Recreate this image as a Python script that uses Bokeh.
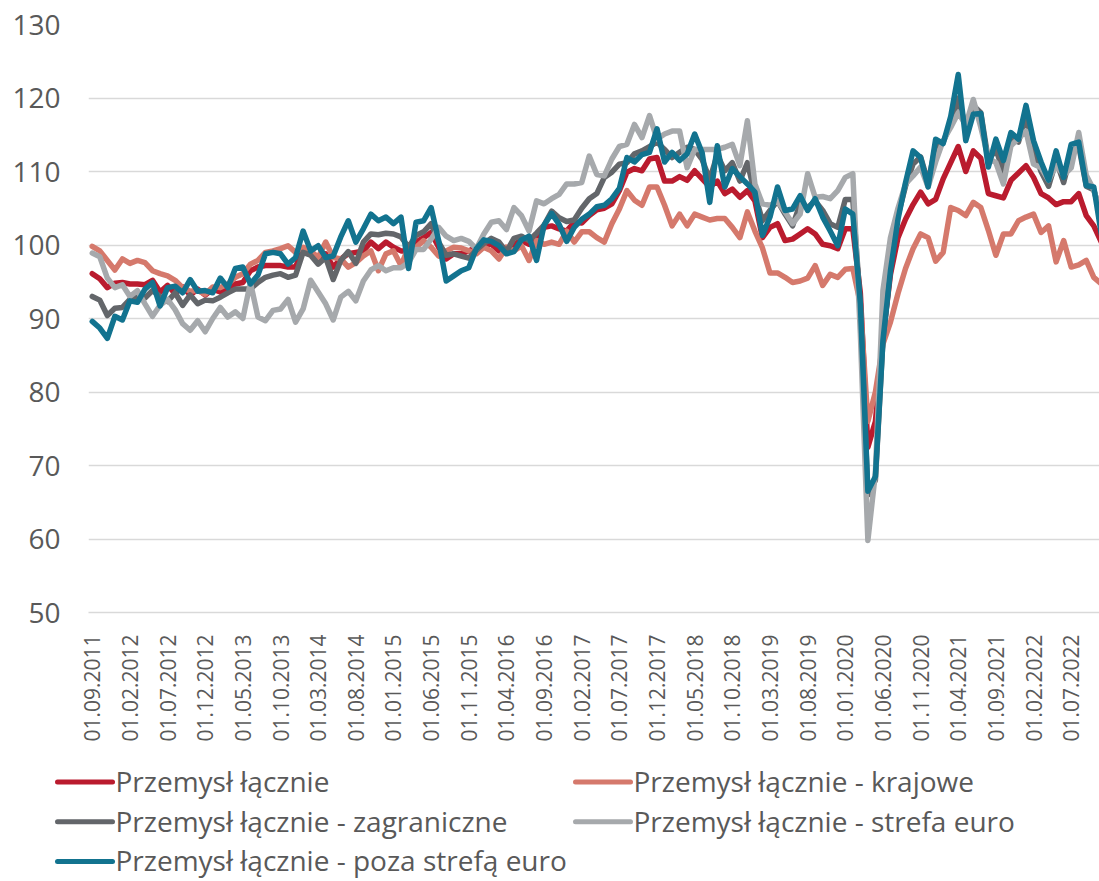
import math
from bokeh.plotting import figure
from bokeh.layouts import column
from bokeh.models import Range1d, FixedTicker
from bokeh.core.properties import value
from bokeh.embed import file_html
from bokeh.resources import INLINE

# x-axis tick labels (every 5th month, first month = 01.09.2011)
tick_labels = ["01.09.2011", "01.02.2012", "01.07.2012", "01.12.2012", "01.05.2013",
               "01.10.2013", "01.03.2014", "01.08.2014", "01.01.2015", "01.06.2015",
               "01.11.2015", "01.04.2016", "01.09.2016", "01.02.2017", "01.07.2017",
               "01.12.2017", "01.05.2018", "01.10.2018", "01.03.2019", "01.08.2019",
               "01.01.2020", "01.06.2020", "01.11.2020", "01.04.2021", "01.09.2021",
               "01.02.2022", "01.07.2022"]

lacznie = [96.1, 95.4, 94.2, 94.8, 94.9, 94.7, 94.7, 94.6, 95.2, 93.6,
           94.5, 93.4, 94.3, 93.2, 94.0, 93.2, 94.0, 93.6, 94.2, 94.7,
           94.9, 96.5, 97.0, 97.2, 97.2, 97.2, 97.0, 97.0, 99.5, 98.8,
           97.9, 98.8, 97.0, 98.1, 98.8, 99.0, 99.2, 100.4, 99.5, 100.4,
           99.7, 99.2, 99.2, 100.4, 101.0, 101.7, 99.7, 98.1, 98.8, 98.8,
           99.2, 99.7, 100.1, 100.1, 99.2, 99.4, 100.1, 100.6, 100.1, 100.6,
           102.4, 102.6, 102.2, 101.9, 103.1, 103.0, 104.0, 104.8, 105.0, 105.6,
           107.4, 109.9, 110.4, 110.1, 111.7, 111.9, 108.7, 108.7, 109.3, 108.8,
           110.1, 109.0, 107.9, 108.7, 107.0, 107.6, 106.5, 107.4, 106.0, 101.0,
           102.4, 102.9, 100.6, 100.8, 101.5, 102.2, 101.5, 100.1, 99.9, 99.5,
           102.2, 102.2, 93.5, 72.5, 76.0, 87.5, 96.0, 101.0, 103.5, 105.5,
           107.2, 105.6, 106.2, 109.0, 111.2, 113.4, 110.0, 112.8, 111.8, 107.0,
           106.7, 106.4, 108.8, 109.8, 110.8, 109.2, 107.0, 106.4, 105.5, 105.9,
           105.9, 107.0, 104.0, 102.6, 100.4]

krajowe = [99.8, 99.2, 97.9, 96.6, 98.1, 97.5, 97.9, 97.6, 96.5, 96.1,
           95.8, 95.2, 94.2, 93.7, 93.8, 93.3, 94.3, 94.2, 94.7, 95.6,
           96.1, 97.4, 97.9, 99.0, 99.2, 99.5, 99.9, 99.0, 99.7, 99.2,
           98.3, 100.4, 98.3, 98.1, 97.0, 97.6, 98.5, 99.2, 96.5, 98.8,
           99.2, 97.2, 99.7, 99.7, 100.6, 99.7, 98.5, 99.2, 99.7, 99.6,
           99.2, 98.8, 99.7, 99.2, 98.1, 99.7, 99.2, 99.9, 97.9, 100.6,
           100.1, 100.4, 100.1, 101.9, 100.4, 101.8, 101.8, 101.0, 100.4, 102.9,
           104.9, 107.4, 106.1, 105.4, 107.9, 107.9, 105.4, 102.6, 104.2, 102.6,
           104.2, 103.8, 103.4, 103.6, 103.6, 102.4, 101.0, 104.5, 101.9, 99.6,
           96.2, 96.2, 95.6, 94.9, 95.1, 95.5, 97.2, 94.5, 96.0, 95.6,
           96.7, 96.8, 92.0, 76.0, 80.0, 86.5, 89.5, 93.4, 96.8, 99.5,
           101.5, 101.0, 97.8, 99.0, 105.1, 104.7, 104.0, 105.8, 105.1, 102.0,
           98.6, 101.5, 101.5, 103.3, 103.8, 104.2, 101.7, 102.6, 97.7, 100.6,
           97.0, 97.3, 97.9, 95.6, 94.7]

zagraniczne = [93.0, 92.5, 90.4, 91.4, 91.5, 92.6, 93.0, 92.8, 93.8, 93.0,
               92.3, 93.5, 91.8, 93.2, 92.0, 92.5, 92.4, 92.9, 93.5, 94.0,
               94.0, 94.0, 94.9, 95.6, 95.9, 96.1, 95.6, 95.9, 99.0, 98.6,
               97.4, 98.3, 95.3, 97.9, 99.1, 97.5, 100.4, 101.5, 101.4, 101.6,
               101.5, 101.1, 99.7, 101.3, 101.8, 102.9, 100.4, 98.6, 98.8, 98.5,
               98.2, 99.3, 100.2, 100.9, 100.4, 99.1, 100.9, 101.2, 100.6, 101.6,
               102.7, 104.6, 103.7, 103.2, 103.4, 105.0, 106.3, 107.0, 109.2, 109.9,
               111.0, 111.2, 112.4, 112.8, 113.4, 114.0, 113.0, 111.9, 112.6, 113.3,
               113.0, 111.6, 108.9, 112.3, 110.1, 111.2, 108.7, 111.2, 106.9, 103.3,
               104.7, 106.0, 104.2, 102.6, 105.6, 105.1, 106.0, 104.7, 102.9, 102.4,
               106.2, 106.2, 92.0, 66.0, 68.0, 87.0, 97.0, 104.0, 108.0, 111.0,
               112.0, 108.5, 113.5, 114.0, 116.5, 120.0, 116.0, 119.0, 118.0, 111.5,
               113.0, 110.0, 114.5, 114.0, 117.5, 113.0, 110.0, 108.0, 111.5, 108.5,
               112.5, 113.5, 108.0, 107.5, 104.0]

strefa_euro = [98.9, 98.4, 95.5, 94.2, 94.6, 93.0, 93.8, 92.0, 90.3, 91.8,
               92.6, 91.2, 89.3, 88.4, 89.7, 88.2, 90.0, 91.5, 90.2, 90.9,
               90.0, 94.9, 90.2, 89.7, 91.1, 91.3, 92.6, 89.5, 91.3, 95.2,
               93.6, 92.0, 89.8, 92.9, 93.7, 92.4, 95.1, 96.6, 97.2, 96.5,
               96.9, 96.9, 97.6, 99.4, 99.4, 100.8, 102.4, 101.2, 100.6, 100.9,
               100.5, 99.5, 101.5, 103.1, 103.3, 102.1, 105.1, 104.0, 101.9, 106.0,
               105.6, 106.3, 106.9, 108.3, 108.3, 108.5, 112.1, 109.6, 109.4, 111.7,
               113.4, 113.7, 116.4, 114.6, 117.6, 114.4, 115.1, 115.5, 115.5, 110.5,
               113.0, 113.0, 113.0, 113.0, 113.3, 113.7, 110.8, 116.9, 108.3, 105.6,
               105.4, 106.0, 104.5, 102.9, 104.2, 109.7, 106.5, 106.6, 106.3, 107.4,
               109.2, 109.7, 88.0, 59.8, 69.0, 93.8, 101.0, 105.0, 108.3, 109.4,
               110.6, 107.9, 111.3, 114.2, 116.0, 118.0, 116.3, 119.8, 116.0, 111.8,
               111.2, 108.3, 113.5, 114.5, 115.5, 111.0, 110.5, 108.8, 110.8, 109.5,
               110.5, 115.3, 109.5, 107.5, 104.0]

poza_strefa = [89.6, 88.7, 87.3, 90.3, 89.8, 92.4, 92.2, 94.0, 94.9, 91.7,
               94.2, 94.4, 93.5, 95.3, 93.7, 93.8, 93.5, 95.5, 94.2, 96.8,
               97.0, 94.7, 95.9, 98.8, 99.0, 98.8, 97.4, 98.3, 101.9, 99.2,
               99.9, 98.3, 98.5, 101.1, 103.3, 100.4, 102.2, 104.2, 103.3, 103.8,
               102.9, 103.8, 96.8, 103.1, 103.3, 105.1, 100.6, 95.1, 95.8, 96.5,
               96.9, 99.5, 100.7, 100.5, 99.9, 98.8, 99.1, 100.7, 101.2, 97.9,
               102.7, 104.3, 102.8, 100.5, 102.4, 103.5, 104.2, 105.2, 105.4, 106.3,
               107.7, 111.9, 111.3, 112.3, 112.6, 115.8, 111.3, 112.6, 111.5, 112.4,
               115.1, 112.5, 105.8, 113.5, 107.9, 110.4, 109.3, 108.3, 107.2, 101.3,
               103.8, 107.9, 104.7, 104.9, 106.7, 104.7, 106.3, 103.8, 101.9, 99.9,
               104.9, 104.2, 92.0, 66.5, 68.5, 87.0, 96.5, 103.5, 108.5, 112.8,
               111.9, 107.9, 114.4, 113.8, 117.5, 123.2, 114.2, 117.8, 117.9, 110.6,
               114.4, 111.5, 115.3, 114.4, 119.0, 114.2, 111.3, 108.8, 112.8, 109.2,
               113.7, 114.0, 108.1, 107.9, 101.5]

series_names = ["Przemysł łącznie", "Przemysł łącznie - krajowe",
                "Przemysł łącznie - zagraniczne", "Przemysł łącznie - strefa euro",
                "Przemysł łącznie - poza strefą euro"]
series_values = [lacznie, krajowe, zagraniczne, strefa_euro, poza_strefa]
series_colors = ["#BA1B2E", "#D5796C", "#63666A", "#A6A9AC", "#12738F"]

y_ticks = [50, 60, 70, 80, 90, 100, 110, 120, 130]

FONT = "Open Sans"
TEXT = "#595959"
GRID = "#D9D9D9"
LW = 5.5

x = list(range(len(lacznie)))

# ---------------- main chart ----------------
p = figure(width=1099, height=750,
           x_range=Range1d(-0.5, 133.76), y_range=Range1d(50, 130),
           output_backend="svg", toolbar_location=None, frame_align=False,
           min_border_left=88, min_border_right=0,
           min_border_top=24, min_border_bottom=138)
p.outline_line_color = None
p.background_fill_color = "white"
p.border_fill_color = "white"

for vals, col in zip(series_values, series_colors):
    p.line(x, vals, line_color=col, line_width=LW,
           line_join="round", line_cap="round")

p.xgrid.grid_line_color = None
p.ygrid.grid_line_color = GRID
p.ygrid.grid_line_width = 1.5
p.ygrid.ticker = FixedTicker(ticks=y_ticks)

p.yaxis.ticker = FixedTicker(ticks=y_ticks)
p.yaxis.axis_line_color = None
p.yaxis.major_tick_line_color = None
p.yaxis.minor_tick_line_color = None
p.yaxis.major_label_text_font = FONT
p.yaxis.major_label_text_font_size = "28px"
p.yaxis.major_label_text_color = TEXT
p.yaxis.major_label_standoff = 22

tick_pos = [5 * k for k in range(len(tick_labels))]
p.xaxis.ticker = FixedTicker(ticks=tick_pos)
p.xaxis.major_label_overrides = {t: lab for t, lab in zip(tick_pos, tick_labels)}
p.xaxis.major_label_orientation = math.pi / 2
p.xaxis.axis_line_color = GRID
p.xaxis.axis_line_width = 1.5
p.xaxis.major_tick_line_color = None
p.xaxis.minor_tick_line_color = None
p.xaxis.major_label_text_font = FONT
p.xaxis.major_label_text_font_size = "21px"
p.xaxis.major_label_text_color = TEXT
p.xaxis.major_label_standoff = 16

# ---------------- legend (separate strip, pixel coordinates) ----------------
LEG_TOP, LEG_H = 750, 131
leg = figure(width=1099, height=LEG_H,
             x_range=Range1d(0, 1099), y_range=Range1d(LEG_TOP + LEG_H, LEG_TOP),
             output_backend="svg", toolbar_location=None, frame_align=False,
             x_axis_type=None, y_axis_type=None,
             min_border=0, min_border_left=0, min_border_right=0,
             min_border_top=0, min_border_bottom=0)
leg.outline_line_color = None
leg.xgrid.grid_line_color = None
leg.ygrid.grid_line_color = None
leg.background_fill_color = "white"
leg.border_fill_color = "white"

col_x = [57, 575]
row_y0, row_dy = 781.5, 39.7
glyph_w, text_gap = 55, 3
lx0, ly, lx1, tx, ty = [], [], [], [], []
for k in range(len(series_names)):
    cx = col_x[k % 2]
    cy = row_y0 + row_dy * (k // 2)
    lx0.append(cx)
    lx1.append(cx + glyph_w)
    ly.append(cy)
    tx.append(cx + glyph_w + text_gap)
    ty.append(cy - 1)
leg.segment(x0=lx0, y0=ly, x1=lx1, y1=ly, line_color=series_colors,
            line_width=5, line_cap="round")
leg.text(x=tx, y=ty, text=series_names, text_font=value(FONT),
         text_font_size="28px", text_color=TEXT, text_baseline="middle",
         text_align="left")

open("out.html", "w").write(file_html(column(p, leg, spacing=0), INLINE))
